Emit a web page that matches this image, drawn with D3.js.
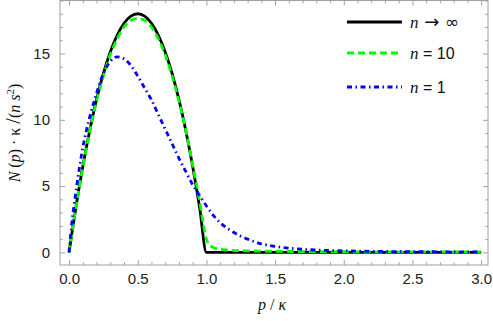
<!DOCTYPE html>
<html>
<head>
<meta charset="utf-8">
<script src="https://cdn.jsdelivr.net/npm/d3@7"></script>
<style>
  body { margin: 0; background: #fff; }
  svg { display: block; }
</style>
</head>
<body>
<script>
// values
const pInf = [0, 0.05, 0.1, 0.15, 0.2, 0.25, 0.3, 0.35, 0.4, 0.45, 0.5, 0.55, 0.6, 0.65, 0.7, 0.75, 0.8, 0.85, 0.9, 0.95, 1.0, 3.0];
const nInf = [0, 3.42, 6.48, 9.18, 11.52, 13.5, 15.12, 16.38, 17.28, 17.82, 18.0, 17.82, 17.28, 16.38, 15.12, 13.5, 11.52, 9.18, 6.48, 3.42, 0, 0];

const p10 = [0, 0.05, 0.1, 0.15, 0.2, 0.25, 0.3, 0.35, 0.4, 0.45, 0.5, 0.55, 0.6, 0.65, 0.7, 0.75, 0.8, 0.85, 0.9, 0.95, 0.98, 1.0, 1.03, 1.07, 1.15, 1.3, 1.5, 2.0, 3.0];
const n10 = [0, 3.4, 6.4, 9.1, 11.4, 13.3, 14.9, 16.1, 17.0, 17.5, 17.65, 17.5, 17.0, 16.1, 14.9, 13.3, 11.4, 9.2, 6.6, 3.9, 2.0, 1.0, 0.5, 0.3, 0.18, 0.12, 0.08, 0.05, 0.03];

const p1 = [0, 0.02, 0.05, 0.1, 0.15, 0.2, 0.25, 0.3, 0.35, 0.4, 0.45, 0.5, 0.55, 0.6, 0.65, 0.7, 0.75, 0.8, 0.85, 0.9, 0.95, 1.0, 1.05, 1.1, 1.2, 1.3, 1.4, 1.5, 1.6, 1.8, 2.0, 2.3, 2.6, 3.0];
const n1 = [0, 2.2, 4.6, 7.9, 10.2, 12.0, 13.5, 14.4, 14.75, 14.6, 14.1, 13.3, 12.4, 11.5, 10.4, 9.3, 8.2, 7.1, 6.1, 5.1, 4.3, 3.5, 2.8, 2.25, 1.5, 1.0, 0.65, 0.45, 0.32, 0.18, 0.12, 0.07, 0.05, 0.03];

const xMajor = [0, 0.5, 1, 1.5, 2, 2.5, 3];
const xLabels = ["0.0", "0.5", "1.0", "1.5", "2.0", "2.5", "3.0"];
const yMajor = [0, 5, 10, 15];

const series = [
    {p: pInf, v: nInf, color: "#000", dash: null, rel: "→", rhs: "∞"},
    {p: p10, v: n10, color: "#00ff00", dash: "7,4", rel: "=", rhs: "10"},
    {p: p1, v: n1, color: "#0000ff", dash: "5,3.5,1.5,3.5", rel: "=", rhs: "1"}
];

const W = 493, H = 321;
const frame = {left: 60, right: 488, top: 0.5, bottom: 265};
const sans = "'Liberation Sans', Arial, sans-serif";
const serif = "'Liberation Serif', 'Times New Roman', serif";

const x = d3.scaleLinear().domain([-0.066, 3.05]).range([frame.left, frame.right]);
const y = d3.scaleLinear().domain([-0.95, 19.0]).range([frame.bottom, frame.top]);

const svg = d3.select("body").append("svg")
    .attr("width", W)
    .attr("height", H)
    .style("font-family", sans);

svg.append("defs").append("clipPath").attr("id", "clip")
    .append("rect")
    .attr("x", frame.left).attr("y", frame.top)
    .attr("width", frame.right - frame.left)
    .attr("height", frame.bottom - frame.top);

const frameColor = "#a0a0a0";

// inward ticks on all four sides, labels only left and bottom
const xMinor = d3.range(0, 30.5, 1).map(d => d / 10).filter(d => !xMajor.includes(d));
const yMinor = d3.range(0, 20, 1).filter(d => !yMajor.includes(d));

const axes = svg.append("g").attr("class", "axes");
axes.append("g").attr("transform", `translate(0,${frame.bottom})`)
    .call(d3.axisBottom(x).tickValues(xMajor).tickSize(-5).tickFormat((d, i) => xLabels[i]).tickPadding(8));
axes.append("g").attr("transform", `translate(0,${frame.bottom})`)
    .call(d3.axisBottom(x).tickValues(xMinor).tickSize(-2.8).tickFormat(""));
axes.append("g").attr("transform", `translate(0,${frame.top})`)
    .call(d3.axisTop(x).tickValues(xMajor).tickSize(-5).tickFormat(""));
axes.append("g").attr("transform", `translate(0,${frame.top})`)
    .call(d3.axisTop(x).tickValues(xMinor).tickSize(-2.8).tickFormat(""));

axes.append("g").attr("transform", `translate(${frame.left},0)`)
    .call(d3.axisLeft(y).tickValues(yMajor).tickSize(-5).tickPadding(10));
axes.append("g").attr("transform", `translate(${frame.left},0)`)
    .call(d3.axisLeft(y).tickValues(yMinor).tickSize(-2.8).tickFormat(""));
axes.append("g").attr("transform", `translate(${frame.right},0)`)
    .call(d3.axisRight(y).tickValues(yMajor).tickSize(-5).tickFormat(""));
axes.append("g").attr("transform", `translate(${frame.right},0)`)
    .call(d3.axisRight(y).tickValues(yMinor).tickSize(-2.8).tickFormat(""));

axes.selectAll(".domain").remove();
axes.selectAll(".tick line").attr("stroke", frameColor).attr("stroke-width", 1);
axes.selectAll(".tick text").attr("fill", "#222").style("font-size", "15px").style("font-family", sans);

svg.append("rect")
    .attr("x", frame.left).attr("y", frame.top)
    .attr("width", frame.right - frame.left)
    .attr("height", frame.bottom - frame.top)
    .attr("fill", "none")
    .attr("stroke", frameColor)
    .attr("stroke-width", 1);

// curves
const line = d3.line()
    .x(d => x(d[0]))
    .y(d => y(d[1]))
    .curve(d3.curveMonotoneX);

const curves = svg.append("g").attr("clip-path", "url(#clip)");
series.forEach(s => {
    curves.append("path")
        .datum(s.p.map((p, i) => [p, s.v[i]]))
        .attr("d", line)
        .attr("fill", "none")
        .attr("stroke", s.color)
        .attr("stroke-width", 2.8)
        .attr("stroke-dasharray", s.dash)
        .attr("stroke-linejoin", "round");
});

// legend
const legendY = [22, 53, 87];
const legend = svg.append("g");
series.forEach((s, i) => {
    legend.append("line")
        .attr("x1", 347).attr("x2", 402)
        .attr("y1", legendY[i]).attr("y2", legendY[i])
        .attr("stroke", s.color)
        .attr("stroke-width", 2.8)
        .attr("stroke-dasharray", s.dash);
    const t = legend.append("text")
        .attr("x", 410).attr("y", legendY[i] + 5.5)
        .style("font-size", "16px")
        .attr("fill", "#111");
    t.append("tspan").text("n")
        .style("font-family", serif)
        .style("font-style", "italic")
        .style("font-size", "17px");
    t.append("tspan").text(" " + s.rel + " ")
        .style("font-family", s.rel === "→" ? "'DejaVu Sans', sans-serif" : sans)
        .style("font-size", s.rel === "→" ? "18px" : "16px");
    t.append("tspan").text(s.rhs)
        .style("font-family", s.rhs === "∞" ? "'DejaVu Sans', sans-serif" : sans)
        .style("font-size", s.rhs === "∞" ? "17px" : "16px");
});

// axis labels
const xl = svg.append("text")
    .attr("x", 272).attr("y", 310)
    .attr("text-anchor", "middle")
    .style("font-family", serif)
    .style("font-size", "16px")
    .attr("fill", "#111");
xl.append("tspan").text("p").style("font-style", "italic");
xl.append("tspan").text(" / ");
xl.append("tspan").text("κ").style("font-style", "italic");

const yl = svg.append("text")
    .attr("transform", "translate(20,133) rotate(-90)")
    .attr("text-anchor", "middle")
    .style("font-family", serif)
    .style("font-size", "16px")
    .attr("fill", "#111");
yl.append("tspan").text("N").style("font-style", "italic");
yl.append("tspan").text(" (");
yl.append("tspan").text("p").style("font-style", "italic");
yl.append("tspan").text(") · κ ");
yl.append("tspan").text("/").style("font-size", "20px");
yl.append("tspan").text("(");
yl.append("tspan").text("n").style("font-style", "italic");
yl.append("tspan").text(" s").style("font-style", "italic");
yl.append("tspan").text("2").attr("dy", -6).style("font-size", "11px");
yl.append("tspan").text(")").attr("dy", 6);
</script>
</body>
</html>
